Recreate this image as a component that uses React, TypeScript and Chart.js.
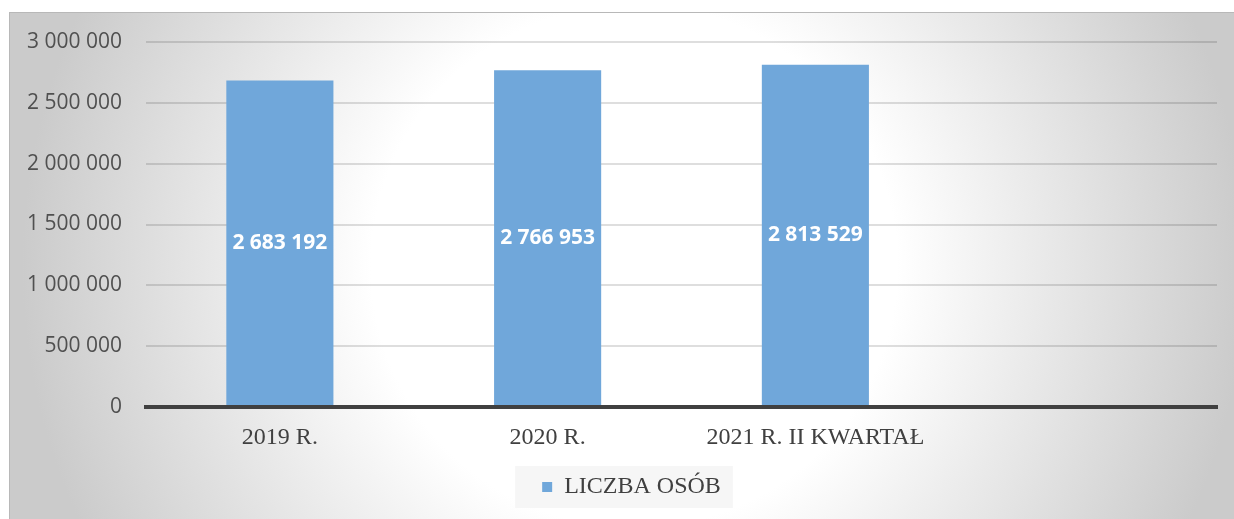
import React, { useEffect, useRef } from "react";
import { Chart, registerables } from "chart.js";

Chart.register(...registerables);

const categories = ["2019 R.", "2020 R.", "2021 R. II KWARTAŁ", ""];
const seriesName = "LICZBA OSÓB";
const values: (number | null)[] = [2683192, 2766953, 2813529, null];
const yTicks = [0, 500000, 1000000, 1500000, 2000000, 2500000, 3000000];

const fmt = (v: number) => String(Math.round(v)).replace(/\B(?=(\d{3})+(?!\d))/g, " ");

const barColor = "#70a7da";

const legendShiftPlugin = {
  id: "legendShift",
  afterLayout(chart: any) {
    const lg = chart.legend;
    if (!lg) return;
    lg.left += 18;
    lg.right += 18;
  },
};

const legendBoxPlugin = {
  id: "legendBox",
  beforeDraw(chart: any) {
    const lg = chart.legend;
    if (!lg || !lg.legendHitBoxes || !lg.legendHitBoxes.length) return;
    const hb = lg.legendHitBoxes[0];
    const ctx = chart.ctx;
    const cy = hb.top + hb.height / 2;
    ctx.save();
    ctx.fillStyle = "rgba(246,246,246,0.95)";
    ctx.fillRect(hb.left - 27, cy - 21, hb.width + 39, 42);
    ctx.restore();
  },
};

const dataLabelPlugin = {
  id: "dataLabels",
  afterDatasetsDraw(chart: any) {
    const ctx = chart.ctx;
    const meta = chart.getDatasetMeta(0);
    ctx.save();
    ctx.font = "bold 21px 'Open Sans'";
    ctx.fillStyle = "#ffffff";
    ctx.textAlign = "center";
    ctx.textBaseline = "middle";
    meta.data.forEach((bar: any, i: number) => {
      const v = chart.data.datasets[0].data[i];
      if (v == null) return;
      const y = (bar.y + bar.base) / 2;
      ctx.fillText(fmt(v), bar.x, y);
    });
    ctx.restore();
  },
};

export default function App() {
  const ref = useRef<HTMLCanvasElement | null>(null);
  useEffect(() => {
    if (!ref.current) return;
    const chart = new Chart(ref.current, {
      type: "bar",
      data: {
        labels: categories,
        datasets: [
          {
            label: seriesName,
            data: values,
            backgroundColor: barColor,
            borderWidth: 0,
            categoryPercentage: 1,
            barPercentage: 0.4,
          },
        ],
      },
      options: {
        responsive: false,
        animation: false,
        layout: { padding: { top: 29, right: 17, bottom: 10, left: 0 } },
        plugins: {
          legend: {
            position: "bottom",
            labels: {
              boxWidth: 10,
              boxHeight: 10,
              padding: 10,
              color: "#404040",
              font: { family: "'Liberation Serif'", size: 24 },
            },
          },
          tooltip: { enabled: false },
        },
        scales: {
          x: {
            grid: { display: false },
            border: { display: true, color: "#404040", width: 4, z: 1 },
            ticks: {
              color: "#404040",
              padding: 8,
              maxRotation: 0,
              autoSkip: false,
              font: { family: "'Liberation Serif'", size: 24 },
            },
            afterFit(scale: any) {
              scale.height = 58;
            },
          },
          y: {
            min: 0,
            max: 3000000,
            afterBuildTicks(scale: any) {
              scale.ticks = yTicks.map((v) => ({ value: v }));
            },
            grid: {
              drawTicks: false,
              color: "rgba(0,0,0,0.13)",
              lineWidth: 2,
            },
            border: { display: false },
            ticks: {
              color: "#505050",
              padding: 24,
              font: { family: "'Open Sans'", size: 21 },
              callback: (v: any) => fmt(Number(v)),
            },
            afterFit(scale: any) {
              scale.width = 136;
              scale.paddingTop = 0;
              scale.paddingBottom = 0;
            },
          },
        },
      },
      plugins: [legendShiftPlugin, legendBoxPlugin, dataLabelPlugin],
    });
    return () => chart.destroy();
  }, []);

  return (
    <div
      style={{
        position: "absolute",
        left: 9,
        top: 12,
        width: 1225,
        height: 507,
        boxSizing: "border-box",
        borderTop: "1px solid #b8b8b8",
        borderLeft: "1px solid #b8b8b8",
        background:
          "radial-gradient(50% 120% at 51% 50%, #ffffff 0%, #ffffff 43%, #cbcbcb 100%)",
      }}
    >
      <canvas ref={ref} width={1224} height={506} style={{ display: "block" }} />
    </div>
  );
}
